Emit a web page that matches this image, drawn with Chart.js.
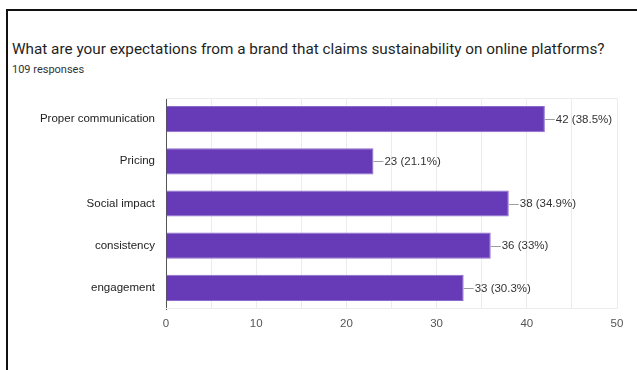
<!DOCTYPE html>
<html>
<head>
<meta charset="utf-8">
<script src="https://cdn.jsdelivr.net/npm/chart.js@4.4.1/dist/chart.umd.min.js"></script>
<style>
  html, body { margin: 0; padding: 0; background: #fff; }
  #wrap { position: relative; width: 637px; height: 370px; overflow: hidden; }
  #frame { position: absolute; left: 6px; top: 9px; width: 700px; height: 400px;
           border-left: 2px solid #111; border-top: 2px solid #111; }
  #title { position: absolute; left: 12px; top: 40px; font-family: Roboto, sans-serif;
           font-size: 15.3px; color: #1f1f1f; white-space: nowrap; }
  #sub { position: absolute; left: 12px; top: 63px; font-family: Roboto, sans-serif;
         font-size: 11px; color: #333; white-space: nowrap; }
  canvas { position: absolute; left: 0; top: 0; }
</style>
</head>
<body>
<div id="wrap">
  <div id="frame"></div>
  <div id="title">What are your expectations from a brand that claims sustainability on online platforms?</div>
  <div id="sub">109 responses</div>
  <canvas id="c" width="637" height="370"></canvas>
</div>
<script>
const categories = ["Proper communication", "Pricing", "Social impact", "consistency", "engagement"];
const counts = [42, 23, 38, 36, 33];
const percents = ["38.5", "21.1", "34.9", "33", "30.3"];
const xTicks = [0, 10, 20, 30, 40, 50];

const FONT = "'Liberation Sans', Arial, sans-serif";

// value labels with a short leader line at the end of each bar
const valueLabels = {
  id: 'valueLabels',
  afterDatasetsDraw(chart) {
    const ctx = chart.ctx;
    const meta = chart.getDatasetMeta(0);
    ctx.save();
    ctx.font = '11.5px ' + FONT;
    ctx.textBaseline = 'middle';
    ctx.textAlign = 'left';
    meta.data.forEach((bar, i) => {
      const x = bar.x, y = bar.y;
      ctx.strokeStyle = '#9e9e9e';
      ctx.lineWidth = 1;
      ctx.beginPath();
      ctx.moveTo(x, Math.round(y) + 0.5);
      ctx.lineTo(x + 10, Math.round(y) + 0.5);
      ctx.stroke();
      ctx.fillStyle = '#333';
      ctx.fillText(counts[i] + ' (' + percents[i] + '%)', x + 11, y + 0.5);
    });
    ctx.restore();
  }
};

// light frame lines along the top and bottom of the plot
const plotEdges = {
  id: 'plotEdges',
  beforeDatasetsDraw(chart) {
    const { ctx, chartArea: a } = chart;
    ctx.save();
    ctx.strokeStyle = '#ececec';
    ctx.lineWidth = 1;
    ctx.beginPath();
    ctx.moveTo(a.left, Math.round(a.top) + 0.5);
    ctx.lineTo(a.right, Math.round(a.top) + 0.5);
    ctx.moveTo(a.left, Math.round(a.bottom) - 0.5);
    ctx.lineTo(a.right, Math.round(a.bottom) - 0.5);
    ctx.stroke();
    ctx.restore();
  }
};

new Chart(document.getElementById('c'), {
  type: 'bar',
  data: {
    labels: categories,
    datasets: [{
      data: counts,
      backgroundColor: '#673ab7',
      borderColor: '#8a6acb',
      borderWidth: 1,
      borderSkipped: 'left',
      barPercentage: 0.62,
      categoryPercentage: 1
    }]
  },
  options: {
    indexAxis: 'y',
    responsive: false,
    animation: false,
    devicePixelRatio: 1,
    layout: { padding: { top: 98, right: 20, bottom: 31, left: 0 } },
    plugins: { legend: { display: false }, tooltip: { enabled: false } },
    scales: {
      x: {
        min: 0, max: 50,
        afterBuildTicks(s) { s.ticks = [0,5,10,15,20,25,30,35,40,45,50].map(v => ({ value: v })); },
        grid: { color: '#ececec', drawTicks: false },
        border: { display: false },
        ticks: {
          padding: 8,
          font: { family: FONT, size: 11.5 },
          color: '#555',
          callback: v => xTicks.includes(v) ? String(v) : ''
        },
        afterFit(s) { s.height = 30; }
      },
      y: {
        grid: { display: false, drawTicks: false },
        border: { display: true, color: '#555', width: 1 },
        ticks: { padding: 11, font: { family: FONT, size: 11.5 }, color: '#222' },
        afterFit(s) { s.width = 166; }
      }
    }
  },
  plugins: [plotEdges, valueLabels]
});
</script>
</body>
</html>
